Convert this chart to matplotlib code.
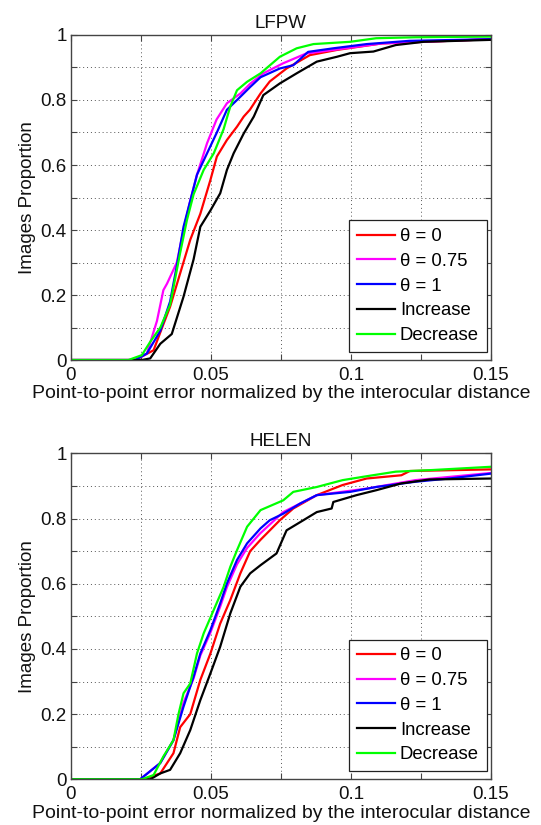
import matplotlib
matplotlib.use("Agg")
import matplotlib.pyplot as plt
from matplotlib.ticker import FixedLocator, FixedFormatter

plt.rcParams['font.family'] = ['Liberation Sans', 'DejaVu Sans']

labels = ["θ = 0", "θ = 0.75", "θ = 1", "Increase", "Decrease"]
colors = ["#ff0000", "#ff00ff", "#0000ff", "#000000", "#00ff00"]

# ---- LFPW ----
lfpw_red_x = [0, 0.0229, 0.0295, 0.033, 0.0354, 0.039, 0.0426, 0.0462, 0.0498, 0.0521, 0.0557, 0.0593, 0.0617, 0.0639, 0.0677, 0.071, 0.077, 0.0853, 0.095, 0.111, 0.15]
lfpw_red_y = [0, 0, 0.03, 0.11, 0.164, 0.267, 0.37, 0.45, 0.554, 0.626, 0.677, 0.718, 0.749, 0.77, 0.82, 0.857, 0.897, 0.938, 0.954, 0.974, 0.987]
lfpw_mag_x = [0, 0.0229, 0.0271, 0.0307, 0.033, 0.0343, 0.0378, 0.0402, 0.0426, 0.045, 0.0486, 0.052, 0.0557, 0.0605, 0.064, 0.0687, 0.0758, 0.084, 0.0937, 0.111, 0.15]
lfpw_mag_y = [0, 0, 0.02, 0.12, 0.215, 0.235, 0.30, 0.40, 0.49, 0.57, 0.667, 0.74, 0.79, 0.82, 0.85, 0.882, 0.913, 0.943, 0.954, 0.974, 0.987]
lfpw_blue_x = [0, 0.0229, 0.0271, 0.0319, 0.0354, 0.0378, 0.0402, 0.0426, 0.045, 0.0486, 0.0521, 0.0557, 0.0605, 0.064, 0.0677, 0.0746, 0.0794, 0.0847, 0.0937, 0.1056, 0.121, 0.15]
lfpw_blue_y = [0, 0, 0.02, 0.09, 0.18, 0.29, 0.41, 0.49, 0.57, 0.636, 0.70, 0.77, 0.81, 0.84, 0.87, 0.897, 0.907, 0.948, 0.959, 0.972, 0.982, 0.987]
lfpw_black_x = [0, 0.0253, 0.0283, 0.0319, 0.036, 0.0402, 0.0438, 0.0462, 0.0498, 0.0533, 0.0557, 0.0581, 0.0617, 0.0653, 0.0687, 0.0746, 0.0806, 0.0878, 0.095, 0.0997, 0.108, 0.116, 0.126, 0.15]
lfpw_black_y = [0, 0, 0.005, 0.05, 0.08, 0.195, 0.31, 0.41, 0.46, 0.513, 0.585, 0.636, 0.697, 0.749, 0.815, 0.851, 0.882, 0.918, 0.933, 0.944, 0.949, 0.969, 0.979, 0.985]
lfpw_green_x = [0, 0.0205, 0.0253, 0.0283, 0.0319, 0.0354, 0.039, 0.0414, 0.0438, 0.0474, 0.051, 0.0545, 0.0569, 0.0593, 0.0629, 0.0677, 0.0746, 0.0806, 0.0866, 0.0997, 0.109, 0.123, 0.15]
lfpw_green_y = [0, 0, 0.015, 0.056, 0.10, 0.17, 0.33, 0.43, 0.51, 0.585, 0.636, 0.71, 0.78, 0.83, 0.856, 0.882, 0.933, 0.959, 0.972, 0.979, 0.99, 0.993, 0.995]

# ---- HELEN ----
helen_red_x = [0, 0.0259, 0.0319, 0.0366, 0.039, 0.0426, 0.0462, 0.0498, 0.0533, 0.0569, 0.0605, 0.064, 0.0677, 0.0746, 0.0794, 0.0878, 0.097, 0.1056, 0.118, 0.121, 0.15]
helen_red_y = [0, 0, 0.018, 0.08, 0.16, 0.20, 0.305, 0.386, 0.478, 0.55, 0.632, 0.70, 0.735, 0.795, 0.831, 0.872, 0.903, 0.923, 0.933, 0.946, 0.951]
helen_mag_x = [0, 0.0247, 0.0319, 0.0366, 0.0402, 0.0438, 0.0462, 0.0498, 0.0533, 0.0557, 0.0593, 0.0629, 0.0675, 0.0758, 0.0878, 0.1056, 0.123, 0.15]
helen_mag_y = [0, 0, 0.05, 0.12, 0.235, 0.31, 0.38, 0.45, 0.53, 0.59, 0.66, 0.71, 0.754, 0.82, 0.872, 0.892, 0.918, 0.94]
helen_blue_x = [0, 0.0247, 0.0319, 0.0366, 0.0402, 0.0438, 0.0462, 0.0498, 0.0533, 0.0557, 0.0593, 0.0629, 0.0677, 0.071, 0.0758, 0.0818, 0.0878, 0.0997, 0.109, 0.123, 0.135, 0.15]
helen_blue_y = [0, 0, 0.05, 0.12, 0.223, 0.315, 0.386, 0.458, 0.54, 0.601, 0.673, 0.724, 0.77, 0.795, 0.815, 0.846, 0.872, 0.882, 0.897, 0.913, 0.923, 0.938]
helen_black_x = [0, 0.0283, 0.0319, 0.0354, 0.039, 0.0426, 0.0462, 0.0498, 0.0533, 0.0569, 0.0605, 0.064, 0.0677, 0.0734, 0.077, 0.083, 0.0878, 0.0931, 0.0937, 0.102, 0.109, 0.118, 0.128, 0.15]
helen_black_y = [0, 0, 0.018, 0.029, 0.08, 0.151, 0.243, 0.325, 0.407, 0.509, 0.591, 0.632, 0.657, 0.693, 0.764, 0.795, 0.82, 0.831, 0.851, 0.872, 0.887, 0.908, 0.92, 0.923]
helen_green_x = [0, 0.0253, 0.0295, 0.033, 0.0366, 0.0384, 0.0402, 0.0426, 0.045, 0.0474, 0.051, 0.0545, 0.0569, 0.0593, 0.0629, 0.0677, 0.0758, 0.0794, 0.0878, 0.097, 0.1056, 0.116, 0.129, 0.15]
helen_green_y = [0, 0, 0.013, 0.07, 0.12, 0.20, 0.264, 0.294, 0.386, 0.448, 0.52, 0.59, 0.652, 0.703, 0.775, 0.826, 0.856, 0.882, 0.897, 0.918, 0.93, 0.944, 0.949, 0.959]

x_ticks = [0, 0.025, 0.05, 0.075, 0.1, 0.125, 0.15]
x_ticklabels = ["0", "", "0.05", "", "0.1", "", "0.15"]
y_ticks = [0, 0.1, 0.2, 0.3, 0.4, 0.5, 0.6, 0.7, 0.8, 0.9, 1.0]
y_ticklabels = ["0", "", "0.2", "", "0.4", "", "0.6", "", "0.8", "", "1"]

panels = [
    ("LFPW", [(lfpw_red_x, lfpw_red_y), (lfpw_mag_x, lfpw_mag_y), (lfpw_blue_x, lfpw_blue_y),
              (lfpw_black_x, lfpw_black_y), (lfpw_green_x, lfpw_green_y)]),
    ("HELEN", [(helen_red_x, helen_red_y), (helen_mag_x, helen_mag_y), (helen_blue_x, helen_blue_y),
               (helen_black_x, helen_black_y), (helen_green_x, helen_green_y)]),
]

fig = plt.figure(figsize=(5.41, 8.25), dpi=100)
rects = [[0.1312, 0.5636, 0.7763, 0.394], [0.1312, 0.0554, 0.7763, 0.395]]

for rect, (title, series) in zip(rects, panels):
    ax = fig.add_axes(rect)
    for (xs, ys), c, lab in zip(series, colors, labels):
        ax.plot(xs, ys, color=c, lw=1.6, label=lab)
    ax.set_xlim(0, 0.15)
    ax.set_ylim(0, 1)
    ax.xaxis.set_major_locator(FixedLocator(x_ticks))
    ax.xaxis.set_major_formatter(FixedFormatter(x_ticklabels))
    ax.yaxis.set_major_locator(FixedLocator(y_ticks))
    ax.yaxis.set_major_formatter(FixedFormatter(y_ticklabels))
    ax.tick_params(direction='in', length=4, width=0.8, top=True, right=True,
                   labelsize=13.5, colors='#444444', labelcolor='#111111')
    ax.tick_params(axis='x', pad=5)
    ax.tick_params(axis='y', pad=3)
    ax.grid(True, linestyle=(0, (1, 3)), color='#555555', lw=0.7)
    for s in ax.spines.values():
        s.set_color('#444444')
        s.set_linewidth(1.0)
    ax.set_title(title, fontsize=13.5, pad=5, color='#111111')
    ax.set_xlabel("Point-to-point error normalized by the interocular distance",
                  fontsize=14, labelpad=1, color='#111111')
    ax.set_ylabel("Images Proportion", fontsize=13.5, labelpad=3, color='#111111')
    leg = ax.legend(loc='lower right', bbox_to_anchor=(0.990, 0.025), borderaxespad=0,
                    fontsize=13.3, handlelength=2.05, handletextpad=0.27, labelspacing=0.42,
                    fancybox=False, framealpha=1, edgecolor='#222222', borderpad=0.42)
    leg.get_frame().set_linewidth(0.9)

fig.savefig("out.png", dpi=100)
